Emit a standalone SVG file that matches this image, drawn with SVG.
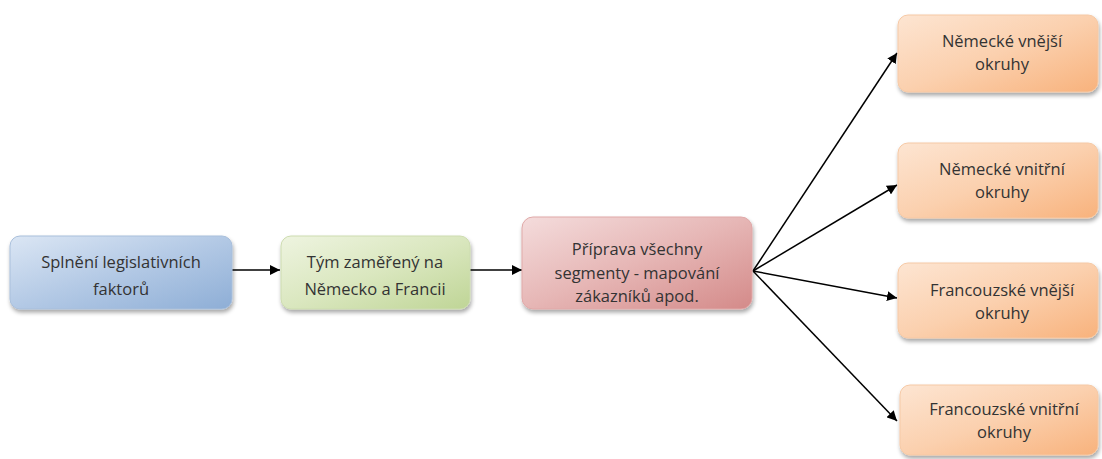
<svg xmlns="http://www.w3.org/2000/svg" width="1102" height="459" viewBox="0 0 1102 459">
<defs>
<linearGradient id="gBlue" x1="0" y1="0" x2="1" y2="1"><stop offset="0" stop-color="#dbe6f4"/><stop offset="0.5" stop-color="#b3c9e5"/><stop offset="1" stop-color="#8eaed6"/></linearGradient>
<linearGradient id="gGreen" x1="0" y1="0" x2="1" y2="1"><stop offset="0" stop-color="#eef4e0"/><stop offset="0.5" stop-color="#dae7bf"/><stop offset="1" stop-color="#bfd596"/></linearGradient>
<linearGradient id="gRed" x1="0" y1="0" x2="1" y2="1"><stop offset="0" stop-color="#f4dcdc"/><stop offset="0.5" stop-color="#e6b6b5"/><stop offset="1" stop-color="#d48a89"/></linearGradient>
<linearGradient id="gOrange" x1="0" y1="0" x2="1" y2="1"><stop offset="0" stop-color="#fde5d2"/><stop offset="0.5" stop-color="#fbd0ae"/><stop offset="1" stop-color="#f8b27c"/></linearGradient>
<filter id="sh" x="-10%" y="-10%" width="125%" height="135%"><feGaussianBlur in="SourceAlpha" stdDeviation="2"/><feOffset dx="1" dy="3"/><feComponentTransfer><feFuncA type="linear" slope="0.35"/></feComponentTransfer><feMerge><feMergeNode/><feMergeNode in="SourceGraphic"/></feMerge></filter>
<marker id="arr" viewBox="0 0 10 10" refX="10" refY="5" markerWidth="10" markerHeight="10" markerUnits="userSpaceOnUse" orient="auto"><path d="M0,0 L10,5 L0,10 z" fill="#000"/></marker>
</defs>
<style>
.box{filter:url(#sh);}
.t{font-family:"Open Sans","Liberation Sans",Arial,sans-serif;font-size:16.5px;fill:#333;text-anchor:middle;}
.c{stroke:#000;stroke-width:1.5;fill:none;marker-end:url(#arr);}
</style>
<rect width="1102" height="459" fill="#fff"/>
<g id="connectors">
<line class="c" x1="232" y1="270" x2="280" y2="270"/>
<line class="c" x1="470" y1="270" x2="522" y2="270"/>
<line class="c" x1="753" y1="271" x2="897" y2="53"/>
<line class="c" x1="753" y1="271" x2="897" y2="185"/>
<line class="c" x1="753" y1="271" x2="897" y2="298"/>
<line class="c" x1="753" y1="271" x2="897" y2="421"/>
</g>
<g id="n1"><rect class="box" x="10" y="236" width="222" height="73" rx="10" fill="url(#gBlue)" stroke="#a9bfdb" stroke-width="1"/>
<text class="t" x="121" y="268">Splnění legislativních</text><text class="t" x="121" y="295">faktorů</text></g>
<g id="n2"><rect class="box" x="281" y="236" width="189" height="73" rx="10" fill="url(#gGreen)" stroke="#cddcb0" stroke-width="1"/>
<text class="t" x="375" y="268">Tým zaměřený na</text><text class="t" x="375" y="295">Německo a Francii</text></g>
<g id="n3"><rect class="box" x="522" y="217" width="230" height="92" rx="11" fill="url(#gRed)" stroke="#e0a9a8" stroke-width="1"/>
<text class="t" x="637" y="255">Příprava všechny</text><text class="t" x="637" y="279">segmenty - mapování</text><text class="t" x="637" y="302">zákazníků apod.</text></g>
<g id="n4"><rect class="box" x="898" y="15" width="200" height="77" rx="10" fill="url(#gOrange)" stroke="#f6c9a5" stroke-width="1"/>
<text class="t" x="1002" y="47">Německé vnější</text><text class="t" x="1002" y="70">okruhy</text></g>
<g id="n5"><rect class="box" x="898" y="143" width="200" height="75" rx="10" fill="url(#gOrange)" stroke="#f6c9a5" stroke-width="1"/>
<text class="t" x="1002" y="175">Německé vnitřní</text><text class="t" x="1002" y="198">okruhy</text></g>
<g id="n6"><rect class="box" x="898" y="263" width="200" height="75" rx="10" fill="url(#gOrange)" stroke="#f6c9a5" stroke-width="1"/>
<text class="t" x="1002" y="296">Francouzské vnější</text><text class="t" x="1002" y="319">okruhy</text></g>
<g id="n7"><rect class="box" x="900" y="385" width="198" height="70" rx="10" fill="url(#gOrange)" stroke="#f6c9a5" stroke-width="1"/>
<text class="t" x="1004" y="415">Francouzské vnitřní</text><text class="t" x="1004" y="438">okruhy</text></g>
</svg>
